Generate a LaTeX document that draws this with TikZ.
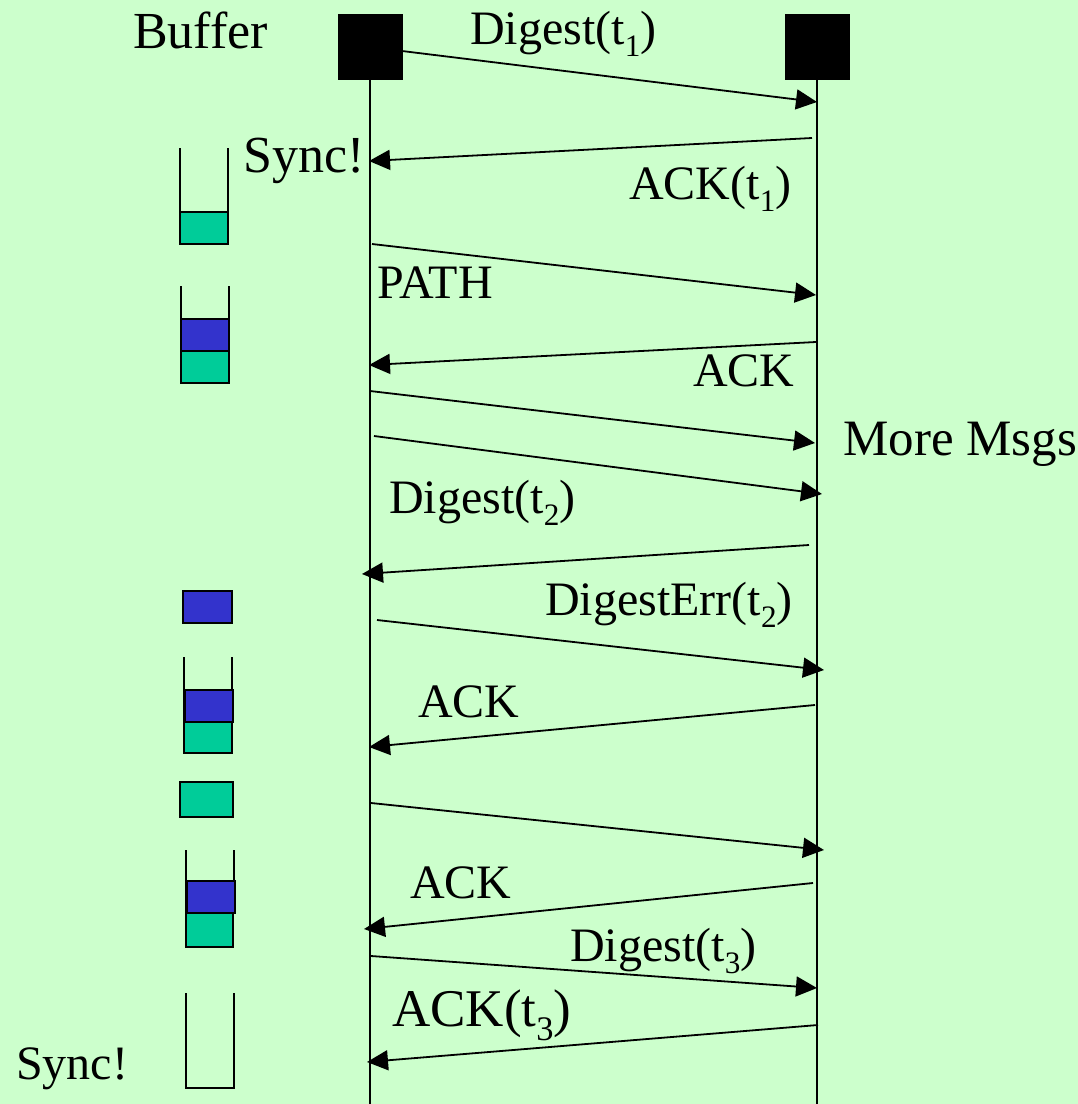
\documentclass[tikz,border=0pt]{standalone}
\usepackage{fontspec}
\setmainfont{Liberation Serif}
\usetikzlibrary{arrows.meta}

\definecolor{bgmint}{HTML}{CCFFCC}
\definecolor{fillteal}{HTML}{00CC99}
\definecolor{fillblue}{HTML}{3333CC}

% lowered index digit, as in t_1
\newcommand{\lowidx}[1]{\raisebox{-0.27em}{\scalebox{0.65}{#1}}}

\tikzset{
  msgfont/.style={font=\fontsize{48}{56}\selectfont},
  bigfont/.style={font=\fontsize{52}{60}\selectfont},
  lbl/.style={msgfont, anchor=base west, inner sep=0pt},
  biglbl/.style={bigfont, anchor=base west, inner sep=0pt},
  actor/.style={fill=black, draw=black, minimum width=64pt, minimum height=65pt, inner sep=0pt},
  lifeline/.style={line width=1.8pt},
  msg/.style={line width=1.8pt, -{Triangle[length=21pt,width=20pt]}},
  wall/.style={line width=2pt},
  slotT/.style={fill=fillteal, draw=black, line width=2.4pt},
  slotB/.style={fill=fillblue, draw=black, line width=2.4pt},
}

\begin{document}
\begin{tikzpicture}[x=1pt, y=-1pt]
  \fill[bgmint] (0,0) rectangle (1078,1104);
  \useasboundingbox (0,0) rectangle (1078,1104);

  % the two endpoints and their lifelines
  \node[actor] (boxA) at (370,46.5) {};
  \node[actor] (boxB) at (817,46.5) {};
  \coordinate (endA) at (370,1104);
  \coordinate (endB) at (817,1104);
  \draw[lifeline] (boxA.south) -- (endA);
  \draw[lifeline] (boxB.south) -- (endB);

  % message end points
  \coordinate (m1s) at (402,51);   \coordinate (m1e) at (817,102);
  \coordinate (m2s) at (812,138);  \coordinate (m2e) at (369,161);
  \coordinate (m3s) at (372,244);  \coordinate (m3e) at (816,295);
  \coordinate (m4s) at (816,342);  \coordinate (m4e) at (369,365);
  \coordinate (m5s) at (370,391);  \coordinate (m5e) at (815,443);
  \coordinate (m6s) at (374,436);  \coordinate (m6e) at (822,494);
  \coordinate (m7s) at (809,545);  \coordinate (m7e) at (362,574);
  \coordinate (m8s) at (377,620);  \coordinate (m8e) at (824,670);
  \coordinate (m9s) at (815,705);  \coordinate (m9e) at (369,747);
  \coordinate (m10s) at (371,803); \coordinate (m10e) at (824,850);
  \coordinate (m11s) at (813,883); \coordinate (m11e) at (364,929);
  \coordinate (m12s) at (371,956); \coordinate (m12e) at (817,988);
  \coordinate (m13s) at (818,1025);\coordinate (m13e) at (367,1062);

  \foreach \i in {1,...,13} \draw[msg] (m\i s) -- (m\i e);

  % labels
  \node[biglbl] (tBuffer) at (133,48) {Buffer};
  \node[lbl] (tDig1) at (470,44) {Digest(t\lowidx{1})};
  \node[biglbl] (tSync1) at (243,172) {Sync!};
  \node[lbl] (tAck1) at (629,199) {ACK(t\lowidx{1})};
  \node[lbl] (tPath) at (377,298) {PATH};
  \node[lbl] (tAckA) at (693,386) {ACK};
  \node[lbl, font=\fontsize{51}{60}\selectfont] (tMore) at (843,455) {More Msgs};
  \node[lbl] (tDig2) at (389,513) {Digest(t\lowidx{2})};
  \node[lbl] (tErr2) at (545,615) {DigestErr(t\lowidx{2})};
  \node[lbl] (tAckB) at (418,717) {ACK};
  \node[lbl] (tAckC) at (410,898) {ACK};
  \node[lbl] (tDig3) at (570,961) {Digest(t\lowidx{3})};
  \node[lbl, font=\fontsize{53}{60}\selectfont] (tAck3) at (392,1026) {ACK(t\lowidx{3})};
  \node[lbl] (tSync2) at (16,1079) {Sync!};

  % buffer 1: one teal entry
  \draw[wall] (180,148) -- (180,244) (228,148) -- (228,244);
  \draw[slotT] (180,212) rectangle (228,244);

  % buffer 2: teal + blue
  \draw[wall] (181,286) -- (181,383) (229,286) -- (229,383);
  \draw[slotT] (181,351) rectangle (229,383);
  \draw[slotB] (181,319) rectangle (229,351);

  % lone blue entry
  \draw[slotB] (183,591) rectangle (232,623);

  % buffer 3: teal + blue
  \draw[wall] (184,657) -- (184,722) (232,657) -- (232,722);
  \draw[slotT] (184,722) rectangle (232,753);
  \draw[slotB] (185,690) rectangle (233,722);

  % lone teal entry
  \draw[slotT] (180,782) rectangle (233,817);

  % buffer 4: teal + blue
  \draw[wall] (186,850) -- (186,913) (234,850) -- (234,913);
  \draw[slotT] (186,913) rectangle (233,947);
  \draw[slotB] (187,881) rectangle (235,913);

  % buffer 5: empty
  \draw[wall] (186,993) -- (186,1088) -- (234,1088) -- (234,993);
\end{tikzpicture}
\end{document}
